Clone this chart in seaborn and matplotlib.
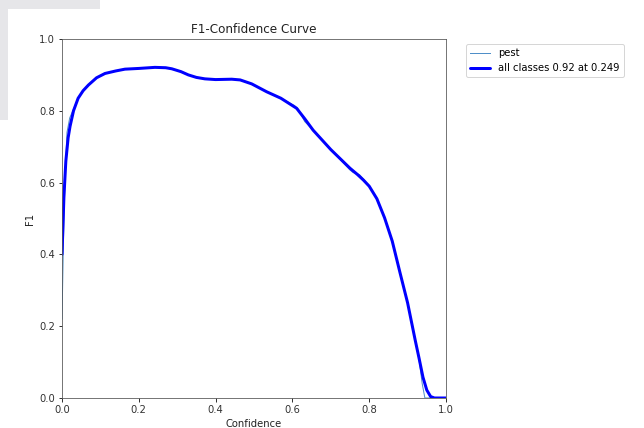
import matplotlib
matplotlib.use("Agg")
import matplotlib.pyplot as plt
from matplotlib.patches import Rectangle
import seaborn as sns
import pandas as pd

# Confidence grid points
conf_all = [0.0, 0.005, 0.01, 0.016, 0.021, 0.03, 0.042, 0.055, 0.069, 0.09,
            0.112, 0.14, 0.164, 0.2, 0.242, 0.27, 0.286, 0.31, 0.329, 0.35,
            0.372, 0.4, 0.442, 0.464, 0.494, 0.533, 0.57, 0.611, 0.632, 0.654,
            0.7, 0.75, 0.77, 0.785, 0.8, 0.82, 0.84, 0.86, 0.88, 0.9, 0.92,
            0.93, 0.94, 0.95, 0.96, 0.97, 1.0]
f1_all = [0.40, 0.56, 0.66, 0.725, 0.757, 0.80, 0.835, 0.856, 0.872, 0.892,
          0.904, 0.911, 0.916, 0.918, 0.921, 0.920, 0.917, 0.909, 0.900, 0.893,
          0.889, 0.887, 0.888, 0.886, 0.875, 0.853, 0.835, 0.807, 0.778, 0.746,
          0.692, 0.640, 0.622, 0.607, 0.590, 0.555, 0.502, 0.437, 0.350, 0.265,
          0.160, 0.110, 0.058, 0.022, 0.004, 0.0, 0.0]

conf_pest = [0.0, 0.004, 0.008, 0.013, 0.02, 0.03, 0.042, 0.055, 0.069, 0.09,
             0.112, 0.14, 0.164, 0.2, 0.242, 0.27, 0.286, 0.31, 0.329, 0.35,
             0.372, 0.4, 0.442, 0.464, 0.494, 0.533, 0.57, 0.605, 0.615, 0.632,
             0.654, 0.7, 0.75, 0.758, 0.775, 0.785, 0.8, 0.82, 0.84, 0.86, 0.88,
             0.9, 0.92, 0.93, 0.938, 0.945, 0.97, 1.0]
f1_pest = [0.22, 0.45, 0.62, 0.74, 0.78, 0.805, 0.835, 0.856, 0.872, 0.892,
           0.904, 0.911, 0.916, 0.918, 0.921, 0.920, 0.917, 0.909, 0.900, 0.893,
           0.889, 0.887, 0.888, 0.886, 0.875, 0.853, 0.835, 0.815, 0.805, 0.770,
           0.746, 0.692, 0.635, 0.628, 0.622, 0.610, 0.590, 0.555, 0.502, 0.437,
           0.350, 0.265, 0.160, 0.105, 0.04, 0.0, 0.0, 0.0]

best_f1 = 0.92
best_conf = 0.249

W, H = 644, 428
DPI = 72
fig = plt.figure(figsize=(W / DPI, H / DPI), dpi=DPI)
fig.patch.set_facecolor("white")

# light grey frame fragment at top-left of the reference image
fig.patches.append(Rectangle((0, 1 - 9 / H), 100 / W, 9 / H, transform=fig.transFigure,
                             facecolor="#e6e6e9", edgecolor="none", zorder=0))
fig.patches.append(Rectangle((0, 1 - 120 / H), 8 / W, 120 / H, transform=fig.transFigure,
                             facecolor="#e6e6e9", edgecolor="none", zorder=0))

ax = fig.add_axes([62 / W, 1 - 398 / H, 384 / W, 359 / H])

df_pest = pd.DataFrame({"Confidence": conf_pest, "F1": f1_pest})
df_all = pd.DataFrame({"Confidence": conf_all, "F1": f1_all})

sns.lineplot(data=df_pest, x="Confidence", y="F1", ax=ax, linewidth=1,
             color="#4f8fc8", label="pest", sort=False,
             solid_joinstyle="round")
sns.lineplot(data=df_all, x="Confidence", y="F1", ax=ax, linewidth=3,
             color="blue", label=f"all classes {best_f1:.2f} at {best_conf:.3f}", sort=False,
             solid_joinstyle="round", solid_capstyle="round")

ax.set_xlim(0, 1)
ax.set_ylim(0, 1)
ax.set_xticks([0.0, 0.2, 0.4, 0.6, 0.8, 1.0])
ax.set_yticks([0.0, 0.2, 0.4, 0.6, 0.8, 1.0])
ax.set_xlabel("Confidence", fontsize=10, color="#222222")
ax.set_ylabel("F1", fontsize=10, color="#222222")
ax.set_title("F1-Confidence Curve", fontsize=12, color="#222222")
ax.tick_params(labelsize=10, labelcolor="#333333")
for s in ax.spines.values():
    s.set_color("#555555")
ax.legend(bbox_to_anchor=(1.04, 1), loc="upper left", fontsize=10)

fig.savefig("out.png", dpi=DPI)
